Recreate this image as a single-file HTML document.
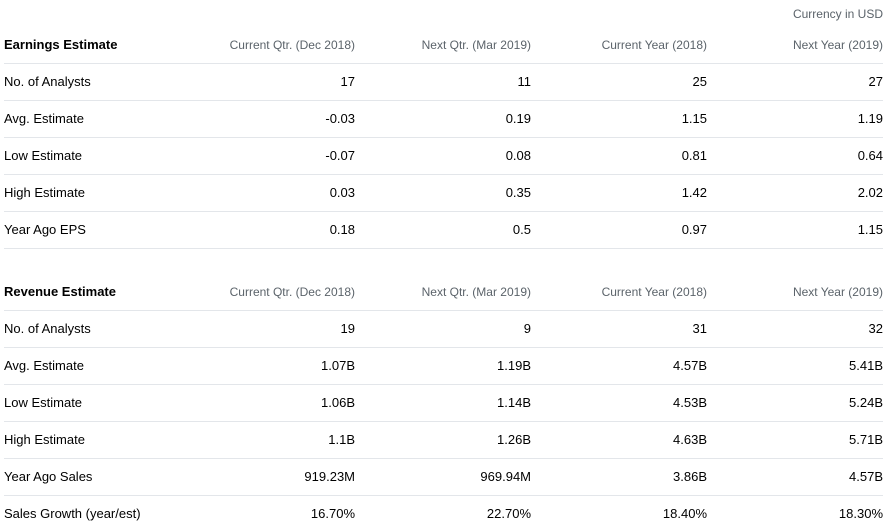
<!DOCTYPE html>
<html><head><style>
body{margin:0;width:893px;height:529px;background:#fff;font-family:"Liberation Sans",Arial,sans-serif;color:#000;overflow:hidden;position:relative}
.cur{position:absolute;top:6px;right:10px;font-size:12px;color:#5b636a;line-height:16px}
.t{position:absolute;left:4px;width:879px}
.r{height:36px;line-height:36px;border-bottom:1px solid #e3e6ea;display:flex;font-size:13px}
.r div{width:176px;text-align:right}
.r div:first-child{width:175px;text-align:left}
.h{font-size:12px;color:#5b636a}
.h div:first-child{font-size:13px;font-weight:bold;color:#000}
.last{border-bottom:none}
</style></head><body>
<div class="cur">Currency in USD</div>
<div class="t" style="top:27px">
<div class="r h"><div>Earnings Estimate</div><div>Current Qtr. (Dec 2018)</div><div>Next Qtr. (Mar 2019)</div><div>Current Year (2018)</div><div>Next Year (2019)</div></div>
<div class="r"><div>No. of Analysts</div><div>17</div><div>11</div><div>25</div><div>27</div></div>
<div class="r"><div>Avg. Estimate</div><div>-0.03</div><div>0.19</div><div>1.15</div><div>1.19</div></div>
<div class="r"><div>Low Estimate</div><div>-0.07</div><div>0.08</div><div>0.81</div><div>0.64</div></div>
<div class="r"><div>High Estimate</div><div>0.03</div><div>0.35</div><div>1.42</div><div>2.02</div></div>
<div class="r"><div>Year Ago EPS</div><div>0.18</div><div>0.5</div><div>0.97</div><div>1.15</div></div>
</div>
<div class="t" style="top:274px">
<div class="r h"><div>Revenue Estimate</div><div>Current Qtr. (Dec 2018)</div><div>Next Qtr. (Mar 2019)</div><div>Current Year (2018)</div><div>Next Year (2019)</div></div>
<div class="r"><div>No. of Analysts</div><div>19</div><div>9</div><div>31</div><div>32</div></div>
<div class="r"><div>Avg. Estimate</div><div>1.07B</div><div>1.19B</div><div>4.57B</div><div>5.41B</div></div>
<div class="r"><div>Low Estimate</div><div>1.06B</div><div>1.14B</div><div>4.53B</div><div>5.24B</div></div>
<div class="r"><div>High Estimate</div><div>1.1B</div><div>1.26B</div><div>4.63B</div><div>5.71B</div></div>
<div class="r"><div>Year Ago Sales</div><div>919.23M</div><div>969.94M</div><div>3.86B</div><div>4.57B</div></div>
<div class="r last"><div>Sales Growth (year/est)</div><div>16.70%</div><div>22.70%</div><div>18.40%</div><div>18.30%</div></div>
</div>
</body></html>
